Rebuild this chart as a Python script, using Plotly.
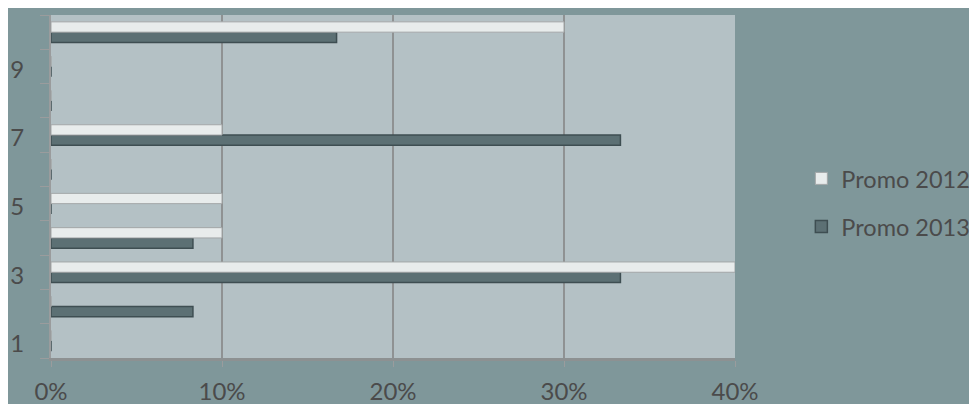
import plotly.graph_objects as go

categories = [1, 2, 3, 4, 5, 6, 7, 8, 9, 10]
promo_2012 = [0, 0, 0.40, 0.10, 0.10, 0, 0.10, 0, 0, 0.30]
promo_2013 = [0, 0.083, 0.333, 0.083, 0, 0, 0.333, 0, 0, 0.167]
x_ticks = [0, 0.1, 0.2, 0.3, 0.4]
x_tick_labels = ["0%", "10%", "20%", "30%", "40%"]
y_ticks = [1, 3, 5, 7, 9]

text_color = "#4b4b4b"
font_family = "Lato, 'Open Sans', sans-serif"

# category band boundaries for the small axis tick marks
boundaries = [c - 0.5 for c in categories] + [categories[-1] + 0.5]

fig = go.Figure()
fig.add_trace(go.Bar(
    y=categories, x=promo_2013, orientation="h", name="Promo 2013",
    marker=dict(color="#5c7074", line=dict(color="#3e4e52", width=1.5)),
    legend="legend2",
))
fig.add_trace(go.Bar(
    y=categories, x=promo_2012, orientation="h", name="Promo 2012",
    marker=dict(color="#e8ecec", line=dict(color="#a3a7a8", width=1)),
    legend="legend",
))

legend_common = dict(
    x=1.097, xanchor="left", yanchor="middle",
    bgcolor="rgba(0,0,0,0)", font=dict(size=23.5, color=text_color),
    itemwidth=30,
)

fig.update_layout(
    width=977, height=404,
    margin=dict(l=43, r=250, t=7, b=54, autoexpand=False),
    paper_bgcolor="#7f979a",
    plot_bgcolor="#b4c1c5",
    barmode="group",
    bargap=0.4,
    bargroupgap=0,
    font=dict(family=font_family, size=24, color=text_color),
    showlegend=True,
    legend=dict(y=0.523, **legend_common),
    legend2=dict(y=0.383, **legend_common),
    xaxis=dict(
        range=[0, 0.4], tickvals=x_ticks, ticktext=x_tick_labels,
        showgrid=True, gridcolor="#8f9293", gridwidth=2,
        showline=True, linecolor="#8d9192", linewidth=3, mirror=False,
        ticks="outside", ticklen=6, tickcolor="#9a9c9d",
        zeroline=False, fixedrange=True, automargin=False,
        ticklabelstandoff=4,
    ),
    yaxis=dict(
        range=[0.5, 10.5], tickvals=y_ticks,
        showgrid=False,
        showline=True, linecolor="#9a9c9d", linewidth=2,
        ticks="", zeroline=False, fixedrange=True, automargin=False,
        ticklabelshift=3, ticklabelstandoff=20,
        minor=dict(tickvals=boundaries, ticks="outside", ticklen=9,
                   tickcolor="#9a9c9d", tickwidth=1, showgrid=False),
    ),
)

fig.write_html("out.html")
